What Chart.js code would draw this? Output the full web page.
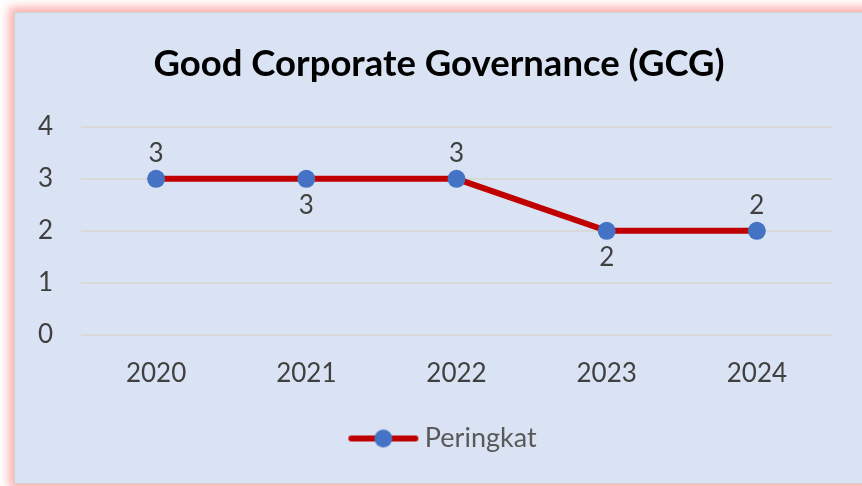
<!DOCTYPE html>
<html>
<head>
<meta charset="utf-8">
<script src="https://cdn.jsdelivr.net/npm/chart.js@4"></script>
<style>
  html, body { margin: 0; padding: 0; background: #fff; overflow: hidden; width: 862px; height: 486px; }
  #card {
    position: absolute; left: 14px; top: 12px; width: 860px; height: 472px;
    background: #dae3f3; border: 1px solid #d0d0d0; box-sizing: border-box;
    box-shadow: 0 0 9px 5px rgba(255, 110, 110, 0.55);
  }
  #chart { position: absolute; left: 0; top: 0; }
</style>
</head>
<body>
<div id="card"><canvas id="chart" width="848" height="472"></canvas></div>
<script>
const years = ["2020", "2021", "2022", "2023", "2024"];
const peringkat = [3, 3, 3, 2, 2];
const yTicks = [0, 1, 2, 3, 4];

const labelSide = ["top", "bottom", "top", "bottom", "top"];

// draws the value labels next to each point
const valueLabels = {
  id: "valueLabels",
  afterDatasetsDraw(chart) {
    const ctx = chart.ctx;
    const meta = chart.getDatasetMeta(0);
    ctx.save();
    ctx.font = "26px Lato";
    ctx.fillStyle = "#404040";
    ctx.textAlign = "center";
    ctx.textBaseline = "middle";
    meta.data.forEach((pt, i) => {
      const dy = labelSide[i] === "top" ? -25 : 27;
      ctx.fillText(String(peringkat[i]), pt.x, pt.y + dy);
    });
    ctx.restore();
  }
};

// legend marker: red line with blue dot (shifted right, closer to the text)
const marker = document.createElement("canvas");
marker.width = 90;
marker.height = 20;
(() => {
  const m = marker.getContext("2d");
  m.strokeStyle = "#c00000";
  m.lineWidth = 6;
  m.lineCap = "round";
  m.beginPath();
  m.moveTo(20, 10);
  m.lineTo(84, 10);
  m.stroke();
  m.fillStyle = "#4472c4";
  m.beginPath();
  m.arc(52, 10, 9, 0, Math.PI * 2);
  m.fill();
})();

new Chart(document.getElementById("chart"), {
  type: "line",
  data: {
    labels: years,
    datasets: [{
      label: "Peringkat",
      data: peringkat,
      borderColor: "#c00000",
      borderWidth: 6,
      backgroundColor: "#4472c4",
      pointBackgroundColor: "#4472c4",
      pointBorderWidth: 0,
      pointRadius: 9,
      pointHoverRadius: 9,
      pointStyle: "circle",
      tension: 0
    }]
  },
  options: {
    responsive: false,
    animation: false,
    events: [],
    layout: { padding: { left: 0, right: 0, top: 0, bottom: 23 } },
    plugins: {
      title: {
        display: true,
        text: "Good Corporate Governance (GCG)",
        color: "#000",
        font: { family: "Lato", size: 36.5, weight: "bold" },
        padding: { top: 29, bottom: 41 }
      },
      legend: {
        position: "bottom",
        labels: {
          usePointStyle: true,
          pointStyleWidth: 70,
          color: "#595959",
          font: { family: "Lato", size: 27 },
          generateLabels: () => [{
            text: "Peringkat",
            pointStyle: marker,
            fillStyle: "#4472c4",
            strokeStyle: "#c00000",
            lineWidth: 0,
            fontColor: "#595959"
          }]
        }
      },
      tooltip: { enabled: false }
    },
    scales: {
      x: {
        offset: true,
        afterFit(scale) { scale.height += 3; },
        grid: { display: false, drawTicks: false },
        border: { display: false },
        ticks: { color: "#404040", font: { family: "Lato", size: 26 }, padding: 23 }
      },
      y: {
        min: yTicks[0],
        max: yTicks[yTicks.length - 1],
        afterFit(scale) { scale.width = 66; },
        grid: { color: "#d9d9d9", lineWidth: 2, drawTicks: false },
        border: { display: false },
        ticks: {
          stepSize: 1,
          color: "#404040",
          font: { family: "Lato", size: 26 },
          padding: 28
        }
      },
      // empty right-side space so the title and legend stay centred on the whole card
      yRight: {
        position: "right",
        afterFit(scale) { scale.width = 31; },
        grid: { display: false, drawTicks: false },
        border: { display: false },
        ticks: { display: false }
      }
    }
  },
  plugins: [valueLabels]
});
</script>
</body>
</html>
